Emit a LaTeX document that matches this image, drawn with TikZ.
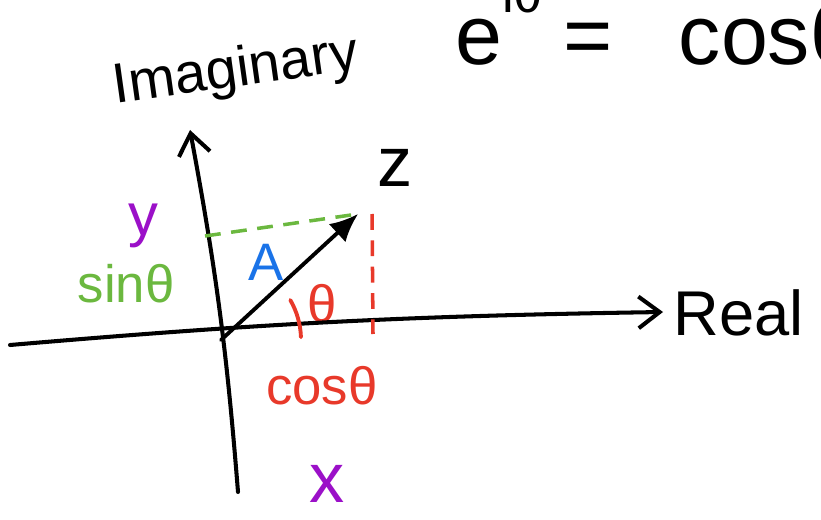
\documentclass[tikz,border=0pt]{standalone}
\usepackage{fontspec}
\setmainfont{Liberation Sans}
\usepackage{xcolor}
\usetikzlibrary{arrows.meta,positioning}
\definecolor{sinecolor}{HTML}{6BB83F}
\definecolor{cosinecolor}{HTML}{E8392A}
\definecolor{lettercolor}{HTML}{9B10C8}
\definecolor{lengthcolor}{HTML}{1A73E8}

\begin{document}
\begin{tikzpicture}[
    x=0.02cm, y=-0.02cm,
    axis/.style={line width=2.3pt, line cap=round,
                 -{Straight Barb[length=12pt,width=18pt,line width=2.3pt]}},
    phasor/.style={line width=2.2pt, line cap=round,
                   -{Latex[length=16pt,width=14pt]}},
    proj/.style={line width=2pt, dash pattern=on 9pt off 6pt},
    hand/.style={inner sep=0pt, font=\fontsize{30}{36}\selectfont},
    big/.style={inner sep=0pt, font=\fontsize{48}{56}\selectfont}
]
\useasboundingbox (0,0) rectangle (821,520);
\clip (0,0) rectangle (821,520);

\coordinate (origin) at (221,340);
\coordinate (realstart) at (10,345);
\coordinate (realend) at (663,312);
\coordinate (imagstart) at (238,492);
\coordinate (imagend) at (190,130);
\coordinate (tip) at (358,214);
\coordinate (ytick) at (205,236);
\coordinate (xtick) at (373,334);

\node (euler) [big, anchor=base west] at (455,65) {e\raisebox{30pt}{\fontsize{30}{36}\selectfont iθ}};
\node (equals) [big, base right=0.4cm of euler] {=};
\node (cosine) [big, base right=1.3cm of equals] {cosθ};

\node (imag) [hand, font=\fontsize{32}{38}\selectfont, rotate=8] at (236,72) {Imaginary};
\node (real) [hand, font=\fontsize{36}{42}\selectfont, anchor=base west] at (673,335) {Real};
\node (zlabel) [hand, font=\fontsize{40}{46}\selectfont] at (395,168) {z};
\node (alabel) [hand, text=lengthcolor] at (266,262) {A};
\node (ylabel) [hand, text=lettercolor, font=\fontsize{34}{40}\selectfont] at (143,226) {y};
\node (sine) [hand, text=sinecolor] at (126,284) {sinθ};
\node (cosx) [hand, text=cosinecolor] at (322,386) {cosθ};
\node (angle) [hand, text=cosinecolor, font=\fontsize{30}{34}\selectfont] at (322,304) {θ};
\node (xlabel) [hand, text=lettercolor, font=\fontsize{40}{46}\selectfont] at (327,484) {x};

\draw[axis] (realstart) to[bend left=2] (realend);
\draw[axis] (imagstart) to[bend right=3] (imagend);
\draw[phasor] (origin) -- (tip);
\draw[proj, sinecolor] (ytick) -- (tip);
\draw[proj, cosinecolor] ([xshift=8]tip) -- (xtick);
\draw[line width=2.2pt, line cap=round, cosinecolor] (origin) ++(-2:80) arc[start angle=-2, end angle=-30, radius=80];
\end{tikzpicture}
\end{document}
